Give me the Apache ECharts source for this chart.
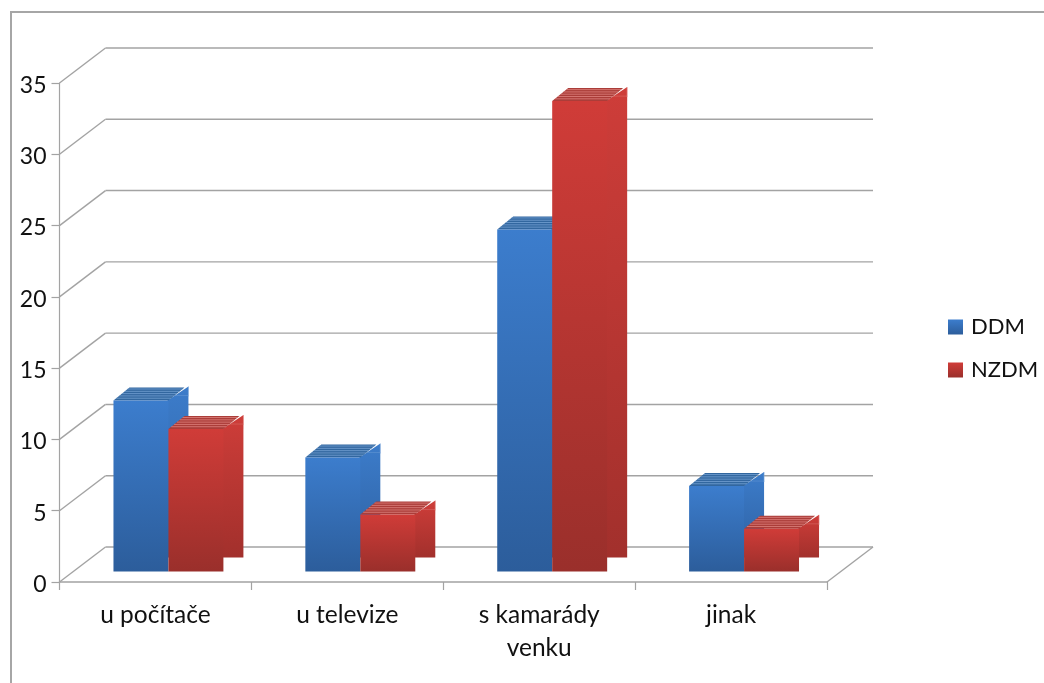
<!DOCTYPE html>
<html><head><meta charset="utf-8">
<style>html,body{margin:0;padding:0;background:#fff}#c{width:1044px;height:683px}</style>
<script src="https://cdn.jsdelivr.net/npm/echarts@6/dist/echarts.min.js"></script>
</head><body><div id="c"></div>
<script>
const categories = ['u počítače', 'u televize', 's kamarády\nvenku', 'jinak'];
const ddm = [12, 8, 24, 6];
const nzdm = [10, 4, 33, 3];
const yTicks = [0, 5, 10, 15, 20, 25, 30, 35];

const LINE = '#a3a3a3';
const FONT = 'Lato, Carlito, sans-serif';
const WALL_DX = 46, WALL_DY = -35;      // perspective offset of back wall
const BAR_DX = 13, BAR_DY = -10.4;      // bars stand in the middle of the floor
const SIDE_DX = 20, SIDE_DY = -14;

function grad(a, b) {
  return { type: 'linear', x: 0, y: 0, x2: 0, y2: 1, colorStops: [{ offset: 0, color: a }, { offset: 1, color: b }] };
}
const palette = {
  DDM: { front: ['#3c7dcd', '#2c5d9b'], side: ['#3c7cca', '#2e61a2'], top: '#32679f', stripe: '#7fa9dc' },
  NZDM: { front: ['#d03c38', '#9a2f2b'], side: ['#ce3d39', '#a2302c'], top: '#ab3d39', stripe: '#e58b87' }
};

function barRenderer(name, side) {
  const p = palette[name];
  return function (params, api) {
    const i = api.value(0), v = api.value(1);
    const band = api.size([1, 0])[0];
    const zero = api.coord([i, 0]), tip = api.coord([i, v]);
    const w = band * 0.2865;
    const cx = zero[0] + BAR_DX;
    const x0 = side < 0 ? cx - w : cx, x1 = x0 + w;
    const base = zero[1] + BAR_DY, top = tip[1] + BAR_DY;
    const children = [];
    // side face
    children.push({ type: 'polygon', shape: { points: [[x1 - 1, top], [x1 + SIDE_DX, top + SIDE_DY], [x1 + SIDE_DX, base + SIDE_DY], [x1 - 1, base + SIDE_DY]] },
      style: { fill: grad(p.side[0], p.side[1]) } });
    // light highlight on the upper side face
    children.push({ type: 'line', shape: { x1: x1 + SIDE_DX, y1: top + SIDE_DY, x2: x1 + SIDE_DX, y2: top + SIDE_DY + 10 }, style: { stroke: p.stripe, lineWidth: 1, opacity: 0.6 } });
    children.push({ type: 'line', shape: { x1: x1 + 1, y1: top + SIDE_DY + 9, x2: x1 + SIDE_DX, y2: top + SIDE_DY + 9 }, style: { stroke: p.stripe, lineWidth: 1, opacity: 0.35 } });
    // top face
    children.push({ type: 'polygon', shape: { points: [[x0, top], [x0 + 16, top - 13], [x1 + 16, top - 13], [x1, top]] }, style: { fill: p.top } });
    for (let k = 1; k <= 5; k++) {
      const dy = k * 2.3;
      children.push({ type: 'line', shape: { x1: x0 + dy * 1.23, y1: top - dy, x2: x1 + dy * 1.23, y2: top - dy }, style: { stroke: p.stripe, lineWidth: 1, opacity: 0.7 } });
    }
    // front face
    children.push({ type: 'rect', shape: { x: x0, y: top, width: w, height: base - top }, style: { fill: grad(p.front[0], p.front[1]) } });
    return { type: 'group', children };
  };
}

function wallRenderer(params, api) {
  const v = api.value(0);
  const band = api.size([1, 0])[0];
  const a = api.coord([0, v]);
  const left = a[0] - band / 2, right = left + band * categories.length;
  const st = { stroke: LINE, lineWidth: 1.4 };
  const children = [
    { type: 'line', shape: { x1: left, y1: a[1], x2: left + WALL_DX, y2: a[1] + WALL_DY }, style: st },
    { type: 'line', shape: { x1: left + WALL_DX, y1: a[1] + WALL_DY, x2: right + WALL_DX, y2: a[1] + WALL_DY }, style: st }
  ];
  if (v === 0) {
    children.push({ type: 'line', shape: { x1: right, y1: a[1], x2: right + WALL_DX, y2: a[1] + WALL_DY }, style: st });
  }
  return { type: 'group', children };
}

const chart = echarts.init(document.getElementById('c'), null, { renderer: 'canvas' });
chart.setOption({
  animation: false,
  backgroundColor: '#fff',
  graphic: [{ type: 'rect', silent: true, z: -1, shape: { x: 11, y: 12, width: 1400, height: 1000 }, style: { fill: 'none', stroke: '#a6a6a6', lineWidth: 2 } }],
  grid: { left: 59.5, right: 217, top: 83, bottom: 101, containLabel: false },
  legend: {
    data: ['DDM', 'NZDM'], orient: 'vertical', left: 943, top: 311,
    itemWidth: 15, itemHeight: 15, itemGap: 21, icon: 'rect',
    textStyle: { fontFamily: FONT, fontSize: 22, color: '#111', padding: [0, 0, 0, 3] }
  },
  xAxis: {
    type: 'category', data: categories,
    axisLine: { lineStyle: { color: LINE, width: 1.5 } },
    axisTick: { show: true, alignWithLabel: false, length: 8, lineStyle: { color: LINE, width: 1.2 } },
    axisLabel: { fontFamily: FONT, fontSize: 24.5, color: '#111', margin: 17, lineHeight: 33, interval: 0 },
    splitLine: { show: false }
  },
  yAxis: {
    type: 'value', min: 0, max: 35, interval: 5,
    axisLine: { show: true, lineStyle: { color: LINE, width: 1.2 } },
    axisTick: { show: true, length: 8, lineStyle: { color: LINE, width: 1.2 } },
    axisLabel: { fontFamily: FONT, fontSize: 23, color: '#111', margin: 13, verticalAlign: 'top', lineHeight: 5, customValues: yTicks },
    splitLine: { show: false }
  },
  series: [
    { type: 'custom', name: 'wall', clip: false, silent: true, z: 1, data: yTicks.map(v => [v]), renderItem: wallRenderer, encode: { y: 0 } },
    { type: 'custom', name: 'DDM', clip: false, z: 2, itemStyle: { color: grad(palette.DDM.front[0], palette.DDM.front[1]) },
      data: ddm.map((v, i) => [i, v]), renderItem: barRenderer('DDM', -1), encode: { x: 0, y: 1 } },
    { type: 'custom', name: 'NZDM', clip: false, z: 3, itemStyle: { color: grad(palette.NZDM.front[0], palette.NZDM.front[1]) },
      data: nzdm.map((v, i) => [i, v]), renderItem: barRenderer('NZDM', 1), encode: { x: 0, y: 1 } }
  ]
});
</script></body></html>
